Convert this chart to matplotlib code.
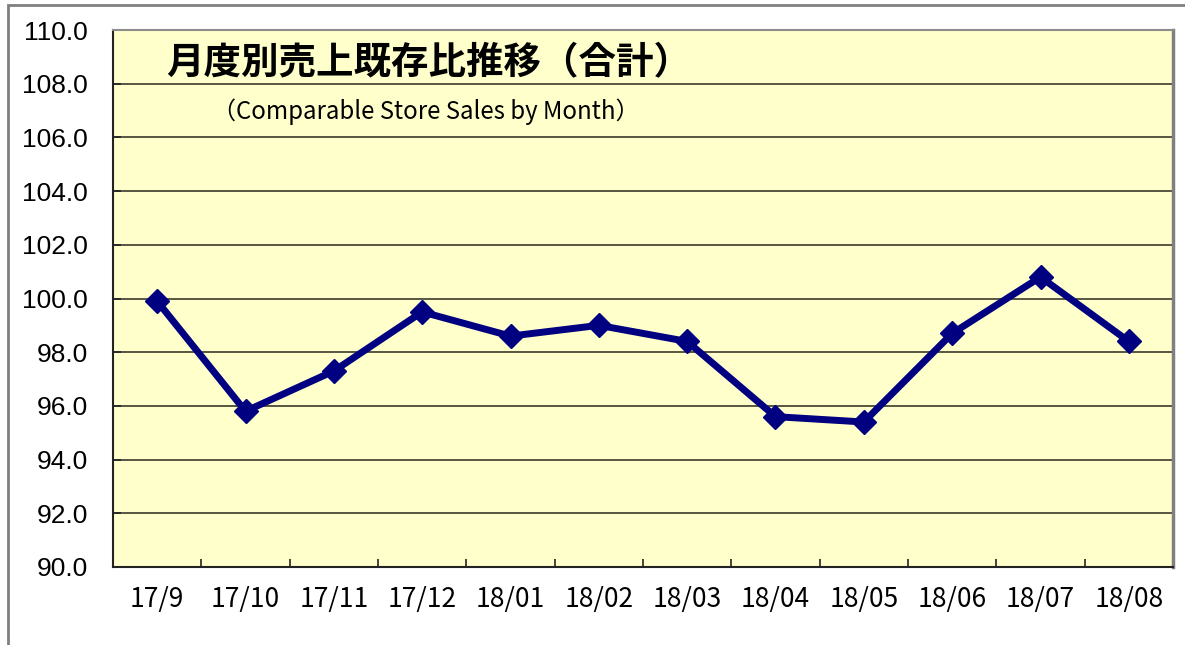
import matplotlib
matplotlib.use("Agg")
import matplotlib.pyplot as plt
from matplotlib.patches import Rectangle
import numpy as np

months = ["17/9", "17/10", "17/11", "17/12", "18/01", "18/02", "18/03",
          "18/04", "18/05", "18/06", "18/07", "18/08"]
values = [99.9, 95.8, 97.3, 99.5, 98.6, 99.0, 98.4, 95.6, 95.4, 98.7, 100.8, 98.4]
yticks = [90.0, 92.0, 94.0, 96.0, 98.0, 100.0, 102.0, 104.0, 106.0, 108.0, 110.0]
title = "月度別売上既存比推移（合計）"
subtitle = "（Comparable Store Sales by Month）"

W, H = 1185, 645
fig = plt.figure(figsize=(W / 100, H / 100), dpi=100)
fig.patch.set_facecolor("white")

# outer chart frame (partially visible)
fig.patches.append(Rectangle((8 / W, -0.2), 1.5, 1.2 - 5 / H,
                             transform=fig.transFigure, fill=False,
                             edgecolor="#808080", linewidth=2))

ax = fig.add_axes([113 / W, (H - 567) / H, 1060 / W, 537 / H])
ax.set_facecolor("#FFFFCC")

x = np.arange(len(months))
ax.plot(x, values, color="#000080", linewidth=5, marker="D",
        markersize=12.5, markerfacecolor="#000080", markeredgecolor="#000080",
        zorder=3)

ax.set_xlim(-0.5, len(months) - 0.5)
ax.set_ylim(90, 110)
ax.set_yticks(yticks)
ax.set_yticklabels([f"{v:.1f}" for v in yticks], family="Liberation Sans",
                   fontsize=19)
ax.set_xticks(x)
ax.set_xticklabels(months, family=["Noto Sans CJK JP", "DejaVu Sans"],
                   fontsize=19)
ax.set_xticks(np.arange(len(months) + 1) - 0.5, minor=True)

ax.tick_params(axis="x", which="major", length=0, pad=14)
ax.tick_params(axis="x", which="minor", direction="in", length=6,
               width=1.2, color="#222222")
ax.tick_params(axis="y", which="major", direction="in", length=6,
               width=1.2, color="#222222", pad=18)

for v in yticks[1:-1]:
    ax.axhline(v, color="#3a3a2a", linewidth=1.2, zorder=1)

ax.spines["left"].set_color("#222222")
ax.spines["left"].set_linewidth(1.5)
ax.spines["bottom"].set_color("#222222")
ax.spines["bottom"].set_linewidth(1.5)
ax.spines["top"].set_color("#8c8c8c")
ax.spines["top"].set_linewidth(1.5)
ax.spines["right"].set_color("#808080")
ax.spines["right"].set_linewidth(2.5)

fig.text(166 / W, 1 - 63 / H, title, family=["Noto Sans CJK JP", "DejaVu Sans"],
         fontsize=27, fontweight="bold", va="center", ha="left", color="black")
fig.text(212 / W, 1 - 112 / H, subtitle, family=["Noto Sans CJK JP", "DejaVu Sans"],
         fontsize=17.3, va="center", ha="left", color="black")

fig.savefig("out.png", dpi=100)
